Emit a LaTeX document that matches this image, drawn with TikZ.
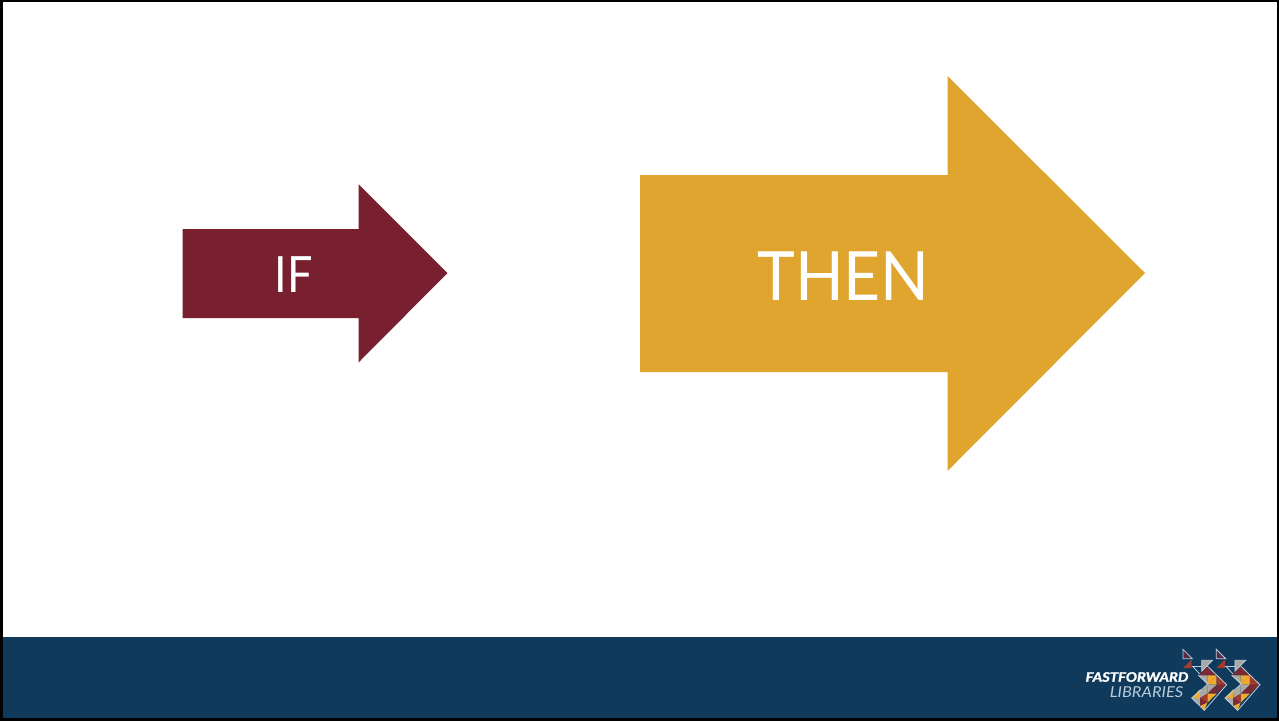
\documentclass[tikz,border=0pt]{standalone}
\usepackage{fontspec}
\setmainfont{Lato}
\newfontfamily\logoheavy[FakeBold=1.6]{Lato Bold Italic}
\definecolor{ifred}{HTML}{78202F}
\definecolor{thengold}{HTML}{E0A52F}
\definecolor{band}{HTML}{0F3A5C}
\definecolor{lplum}{HTML}{5A2A45}
\definecolor{lred}{HTML}{A23A2E}
\definecolor{lmaroon}{HTML}{7A2A35}
\definecolor{lgrey}{HTML}{A9A9A4}
\definecolor{lgold}{HTML}{F0A92E}
\definecolor{lteal}{HTML}{3F7F8F}
\definecolor{lline}{HTML}{B9CEDC}
\tikzset{
  x=1pt,y=-1pt,
  arrowtext/.style={text=white,inner sep=0pt,anchor=center,transform shape},
  outl/.style={draw=lline,line width=0.8pt,line join=miter}
}
\newcommand{\logochev}[1]{%
\begin{scope}[shift={(#1,0)}]
\begin{scope}[shift={(1175,642)},scale=1/3]
  \filldraw[outl,fill=lplum] (24,22) -- (52,50) -- (24,50) -- cycle;
  \fill[lred] (24,78) -- (50,52) -- (50,78) -- cycle;
  \draw[outl] (50,72) -- (80,72);
  \draw[outl] (55,75) -- (100,125);
  \filldraw[outl,fill=lgrey] (80,55) -- (112,55) -- (80,88) -- cycle;
  % upper band
  \fill[lmaroon] (97,74) -- (125,100) -- (70,100) -- cycle;
  \fill[lgrey] (70,100) -- (97,100) -- (97,128) -- cycle;
  \fill[lgold] (97,100) -- (125,100) -- (97,128) -- cycle;
  \fill[lgold] (125,100) -- (125,128) -- (97,128) -- cycle;
  \fill[lteal] (125,100) -- (140,114) -- (125,128) -- cycle;
  \fill[lmaroon] (125,128) -- (155,128) -- (125,155) -- cycle;
  \fill[lred] (125,100) -- (155,128) -- (125,128) -- cycle;
  % lower band
  \fill[lgrey] (97,128) -- (125,128) -- (97,155) -- cycle;
  \fill[lmaroon] (125,128) -- (125,155) -- (97,155) -- cycle;
  \fill[lgold] (97,155) -- (125,155) -- (97,182) -- cycle;
  \fill[lgrey] (70,155) -- (97,128) -- (97,155) -- cycle;
  \fill[lgold] (50,168) -- (75,142) -- (75,168) -- cycle;
  \fill[lgrey] (75,142) -- (97,155) -- (75,168) -- cycle;
  \fill[lred] (75,168) -- (97,155) -- (97,182) -- cycle;
  \fill[lgrey] (50,168) -- (75,168) -- (75,192) -- cycle;
  \fill[lmaroon] (75,168) -- (97,182) -- (75,192) -- cycle;
  \fill[lgold] (75,192) -- (97,182) -- (88,205) -- cycle;
  \draw[outl] (97,72) -- (155,128) -- (88,205) -- (50,168) -- (100,125) -- (70,100);
\end{scope}
\end{scope}}
\begin{document}
\begin{tikzpicture}
\useasboundingbox (0,0) rectangle (1279,721);
\fill[white] (0,0) rectangle (1279,721);
\fill[band] (2,637) rectangle (1277,719);
\draw[black,line width=2.4pt] (1.6,1.2) rectangle (1278,719.6);
\fill[ifred] (182.5,229) -- (358.5,229) -- (358.5,184) -- (447.5,273) -- (358.5,362.5) -- (358.5,318) -- (182.5,318) -- cycle;
\fill[thengold] (640,175) -- (947.5,175) -- (947.5,76) -- (1145,273) -- (947.5,471) -- (947.5,372) -- (640,372) -- cycle;
\node[arrowtext,xscale=0.9,font=\fontsize{50}{50}\selectfont] (iftext) at (293.5,275) {IF};
\node[arrowtext,xscale=0.94,font=\fontsize{68}{68}\selectfont] (thentext) at (843.5,276) {THEN};
\logochev{0}
\logochev{33.3}
\node[text=white,inner sep=0pt,xscale=1.14,transform shape,font=\fontsize{13}{13}\selectfont\fontseries{b}\itshape\addfontfeature{FakeBold=1.6}] (ff) at (1137,677) {FASTFORWARD};
\node[text=lline,inner sep=0pt,xscale=1.1,transform shape,font=\fontsize{15}{15}\selectfont\itshape] (lib) at (1146.5,692) {LIBRARIES};
\end{tikzpicture}
\end{document}
